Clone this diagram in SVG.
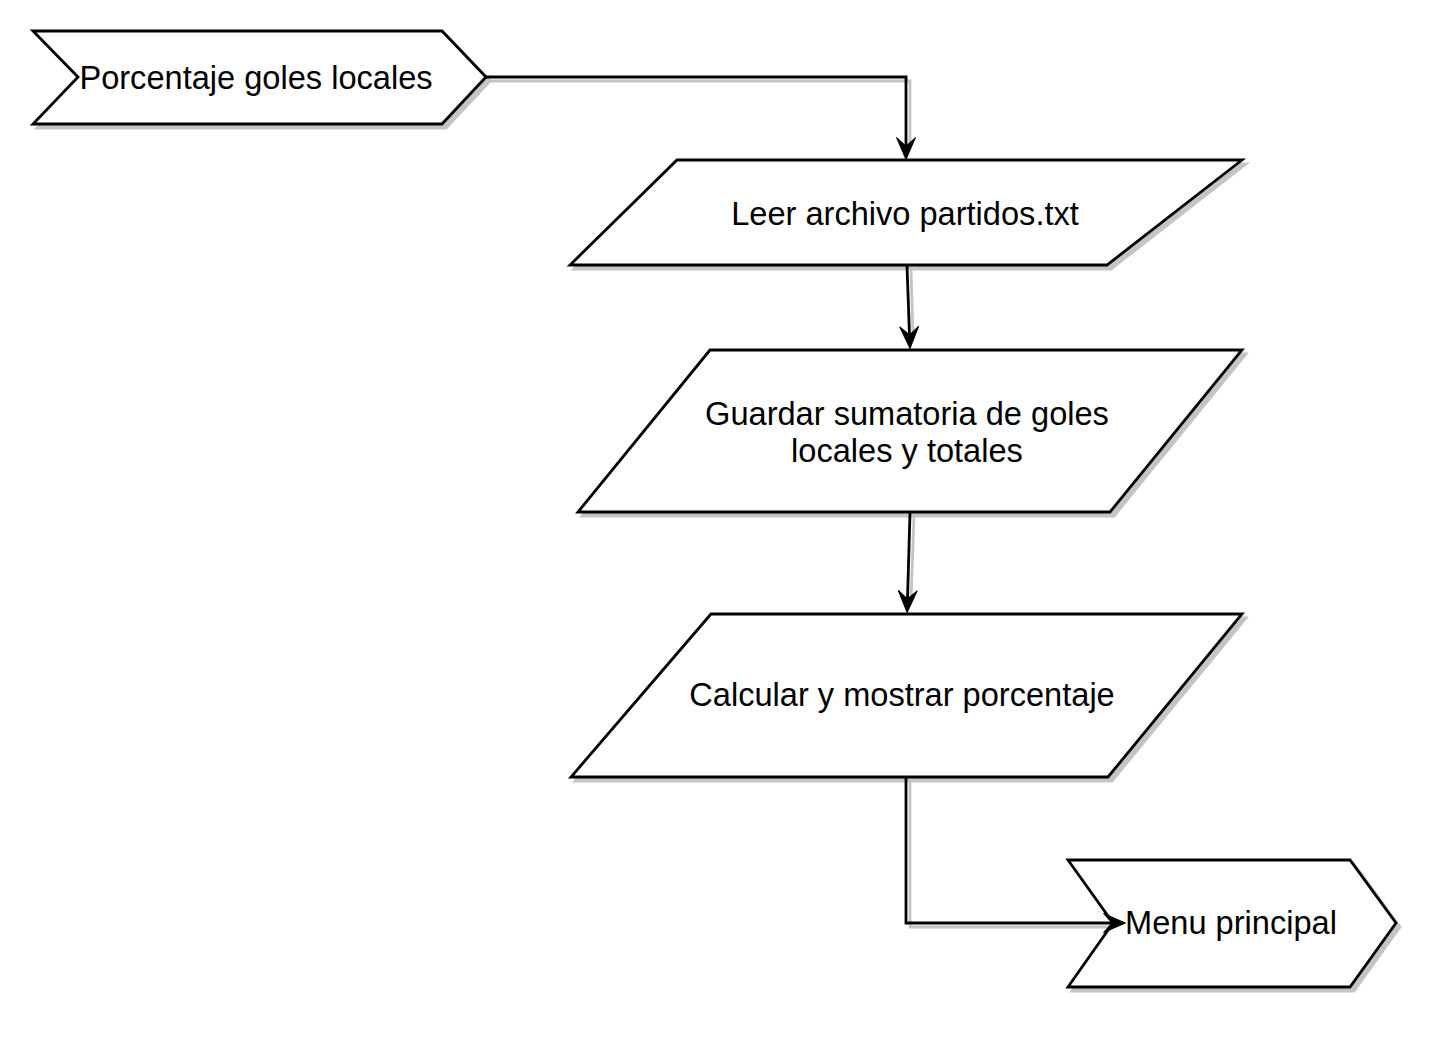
<svg xmlns="http://www.w3.org/2000/svg" width="1442" height="1038" viewBox="0 0 1442 1038">
<style>
.shape{fill:#ffffff;stroke:#000000;stroke-width:2.8;stroke-linejoin:miter}
.shadow{fill:#c4c4c4;stroke:#c4c4c4;stroke-width:2.8}
.lbl{font-family:"Liberation Sans",Arial,sans-serif;font-size:32.6px;fill:#000000;text-anchor:middle}
.edge{fill:none;stroke:#000000;stroke-width:2.8}
.edgeshadow{fill:none;stroke:#c4c4c4;stroke-width:2.8}
</style>
<defs>
<marker id="arrow" viewBox="0 0 23 20" refX="9" refY="10" markerWidth="23" markerHeight="20" markerUnits="userSpaceOnUse" orient="auto">
<path d="M0.5,0.5 L22.5,10 L0.5,19.5 L9,10 Z" fill="#000000" stroke="#000000" stroke-width="1"/>
</marker>
</defs>
<rect width="1442" height="1038" fill="#ffffff"/>
<g id="connectors">
<path class="edgeshadow" d="M489,81 H910 V146"/>
<path class="edgeshadow" d="M911,269 L913,336"/>
<path class="edgeshadow" d="M914,516 L911,600"/>
<path class="edgeshadow" d="M910,780 V927 H1110"/>
</g>
<g id="node-start">
<polygon class="shadow" points="37,35 446,35 490,81 446,128 37,128 82,81"/>
<polygon class="shape" points="33,31 442,31 486,77 442,124 33,124 78,77"/>
<text class="lbl" x="256" y="89">Porcentaje goles locales</text>
</g>
<g id="node-leer">
<polygon class="shadow" points="681,164 1246,164 1111,269 574,269"/>
<polygon class="shape" points="677,160 1242,160 1107,265 570,265"/>
<text class="lbl" x="905" y="225">Leer archivo partidos.txt</text>
</g>
<g id="node-guardar">
<polygon class="shadow" points="714,354 1246,354 1114,516 582,516"/>
<polygon class="shape" points="710,350 1242,350 1110,512 578,512"/>
<text class="lbl" x="907" y="425">Guardar sumatoria de goles</text>
<text class="lbl" x="907" y="462">locales y totales</text>
</g>
<g id="node-calcular">
<polygon class="shadow" points="715,618 1246,618 1112,781 575,781"/>
<polygon class="shape" points="711,614 1242,614 1108,777 571,777"/>
<text class="lbl" x="902" y="706">Calcular y mostrar porcentaje</text>
</g>
<g id="node-menu">
<polygon class="shadow" points="1072,864 1354,864 1400,927 1354,991 1072,991 1117,927"/>
<polygon class="shape" points="1068,860 1350,860 1396,923 1350,987 1068,987 1113,923"/>
<text class="lbl" x="1231" y="934">Menu principal</text>
</g>
<g id="connectors-main">
<path class="edge" d="M486,77 H906 V146" marker-end="url(#arrow)"/>
<path class="edge" d="M907,266 L909.5,335" marker-end="url(#arrow)"/>
<path class="edge" d="M910,513 L907.5,599" marker-end="url(#arrow)"/>
<path class="edge" d="M906,777 V923 H1112" marker-end="url(#arrow)"/>
</g>
</svg>
